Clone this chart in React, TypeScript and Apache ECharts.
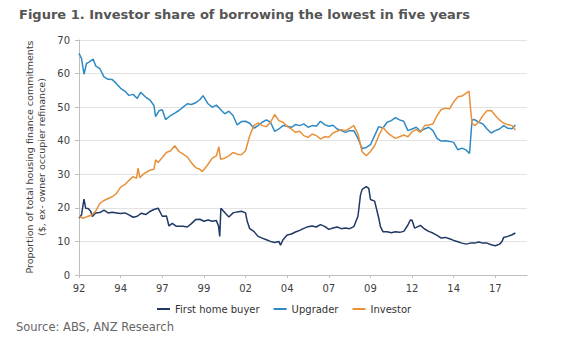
import React, { useEffect, useRef } from "react";
import * as echarts from "echarts";

const titleText = "Figure 1. Investor share of borrowing the lowest in five years";
const yAxisName1 = "Proportion of total housing finance commitments";
const yAxisName2 = "($, ex- owner occupier refinance)";
const sourceText = "Source: ABS, ANZ Research";

const tickYears = [1992, 1994.5, 1997, 1999.5, 2002, 2004.5, 2007, 2009.5, 2012, 2014.5, 2017];
const tickLabels = ["92", "94", "97", "99", "02", "04", "07", "09", "12", "14", "17"];

const firstHomeBuyer: [number, number][] = [
  [1992.0, 17], [1992.15, 17.9], [1992.3, 22.6], [1992.4, 19.9], [1992.55, 19.8], [1992.7, 19], [1992.8, 17.4],
  [1993.0, 18.5], [1993.25, 18.6], [1993.5, 19.3], [1993.75, 18.5], [1994.0, 18.7], [1994.25, 18.5], [1994.5, 18.3],
  [1994.75, 18.5], [1995.0, 17.9], [1995.25, 17.2], [1995.5, 17.5], [1995.75, 18.4], [1996.0, 18], [1996.25, 18.9],
  [1996.5, 19.5], [1996.75, 19.9], [1997.0, 17.5], [1997.25, 17.6], [1997.4, 14.6], [1997.6, 15.4], [1997.85, 14.5],
  [1998.25, 14.5], [1998.5, 14.3], [1998.75, 15.3], [1999.0, 16.5], [1999.25, 16.6], [1999.5, 16], [1999.75, 16.4],
  [2000.0, 16], [2000.25, 16.2], [2000.38, 14.5], [2000.45, 11.5], [2000.52, 19.9], [2000.75, 18.6], [2001.0, 17.3],
  [2001.25, 18.5], [2001.5, 18.8], [2001.75, 19], [2002.0, 18.5], [2002.1, 16], [2002.25, 13.8], [2002.5, 13],
  [2002.75, 11.5], [2003.0, 11], [2003.25, 10.5], [2003.5, 10], [2003.75, 9.7], [2004.0, 10], [2004.1, 8.9],
  [2004.25, 10.5], [2004.5, 11.9], [2004.75, 12.2], [2005.0, 12.8], [2005.25, 13.3], [2005.5, 13.9], [2005.75, 14.4],
  [2006.0, 14.6], [2006.25, 14.3], [2006.5, 15], [2006.75, 14.5], [2007.0, 13.6], [2007.25, 14], [2007.5, 14.3],
  [2007.75, 13.8], [2008.0, 14], [2008.25, 13.8], [2008.5, 14.4], [2008.75, 17.5], [2008.9, 23.8], [2009.0, 25.5],
  [2009.25, 26.3], [2009.4, 25.8], [2009.5, 22.5], [2009.75, 22], [2010.0, 16.9], [2010.1, 14.4], [2010.25, 12.9],
  [2010.5, 12.9], [2010.75, 12.6], [2011.0, 12.9], [2011.25, 12.7], [2011.5, 13], [2011.75, 14.9], [2011.9, 16.4],
  [2012.0, 16.3], [2012.15, 14], [2012.25, 14.2], [2012.5, 14.8], [2012.75, 13.7], [2013.0, 13], [2013.25, 12.5],
  [2013.5, 11.8], [2013.75, 11], [2014.0, 11.2], [2014.25, 10.8], [2014.5, 10.3], [2014.75, 9.9], [2015.0, 9.5],
  [2015.25, 9.2], [2015.5, 9.5], [2015.75, 9.5], [2016.0, 9.8], [2016.25, 9.5], [2016.5, 9.5], [2016.75, 9],
  [2017.0, 8.7], [2017.25, 9.2], [2017.4, 10], [2017.5, 11.2], [2017.75, 11.5], [2018.0, 12], [2018.2, 12.5],
];

const upgrader: [number, number][] = [
  [1992.0, 66], [1992.15, 64.5], [1992.3, 59.8], [1992.45, 63], [1992.6, 63.4], [1992.85, 64.3], [1993.0, 62.3],
  [1993.25, 61.5], [1993.5, 59], [1993.75, 58.3], [1994.0, 58.2], [1994.25, 57], [1994.5, 55.6], [1994.75, 54.8],
  [1995.0, 53.5], [1995.25, 53.8], [1995.5, 52.6], [1995.7, 54.4], [1996.0, 53], [1996.25, 52.2], [1996.5, 50.5],
  [1996.6, 47.2], [1996.8, 48.9], [1997.0, 49.2], [1997.2, 46.3], [1997.5, 47.5], [1997.75, 48.2], [1998.0, 49],
  [1998.25, 50], [1998.5, 51], [1998.75, 50.8], [1999.0, 51.3], [1999.25, 52.2], [1999.45, 53.4], [1999.75, 51],
  [2000.0, 50], [2000.25, 50.6], [2000.5, 49.3], [2000.75, 48], [2001.0, 48.8], [2001.25, 47.5], [2001.5, 44.7],
  [2001.75, 45.7], [2002.0, 45.8], [2002.25, 45.2], [2002.5, 43.7], [2002.75, 44.5], [2003.0, 45.5], [2003.25, 46.2],
  [2003.5, 45.5], [2003.75, 42.8], [2004.0, 43.5], [2004.25, 44.5], [2004.5, 44.3], [2004.75, 44], [2005.0, 44.8],
  [2005.25, 44.5], [2005.5, 45], [2005.75, 44], [2006.0, 44.5], [2006.25, 44.3], [2006.5, 45.8], [2006.75, 44.8],
  [2007.0, 44.3], [2007.25, 44.6], [2007.5, 43.5], [2007.75, 43], [2008.0, 42.5], [2008.25, 43], [2008.5, 43],
  [2008.75, 40.7], [2009.0, 37.7], [2009.25, 38], [2009.5, 38.8], [2009.75, 41.5], [2010.0, 44.2], [2010.25, 43.8],
  [2010.5, 45.5], [2010.75, 46], [2011.0, 46.9], [2011.25, 46.2], [2011.5, 45.8], [2011.75, 43], [2012.0, 43.5],
  [2012.25, 44], [2012.5, 42.8], [2012.75, 43.5], [2013.0, 44], [2013.25, 43], [2013.5, 40.7], [2013.75, 39.9],
  [2014.0, 40], [2014.25, 39.8], [2014.5, 39.5], [2014.75, 37.3], [2015.0, 37.8], [2015.25, 37.2], [2015.45, 36.2],
  [2015.6, 46.2], [2015.75, 46.3], [2016.0, 45.5], [2016.25, 45], [2016.5, 43.5], [2016.75, 42.3], [2017.0, 43],
  [2017.25, 43.5], [2017.5, 44.5], [2017.75, 43.7], [2018.0, 43.6], [2018.2, 44.7],
];

const investor: [number, number][] = [
  [1992.0, 17.4], [1992.25, 16.9], [1992.5, 17.4], [1992.75, 17.8], [1993.0, 19], [1993.25, 21.3], [1993.5, 22.2],
  [1993.75, 22.8], [1994.0, 23.3], [1994.25, 24.3], [1994.5, 26.2], [1994.75, 26.9], [1995.0, 28.2], [1995.25, 29.3],
  [1995.45, 28.8], [1995.55, 31.8], [1995.65, 29], [1995.9, 30.2], [1996.25, 31.2], [1996.5, 31.5], [1996.6, 34.3],
  [1996.75, 33.5], [1997.0, 35], [1997.25, 36.5], [1997.5, 37], [1997.75, 38.5], [1998.0, 36.8], [1998.25, 36],
  [1998.5, 35.2], [1998.75, 33.4], [1999.0, 32], [1999.25, 31.5], [1999.4, 30.8], [1999.6, 32], [1999.75, 33],
  [2000.0, 34.8], [2000.25, 35.5], [2000.4, 38.2], [2000.5, 34.5], [2000.75, 34.8], [2001.0, 35.5], [2001.25, 36.5],
  [2001.5, 36], [2001.75, 35.8], [2002.0, 37], [2002.25, 41.5], [2002.5, 44.5], [2002.75, 45.3], [2003.0, 44.5],
  [2003.25, 44.2], [2003.5, 45.5], [2003.75, 47.8], [2004.0, 46], [2004.25, 45.5], [2004.5, 44.2], [2004.75, 43.5],
  [2005.0, 42.5], [2005.25, 42.8], [2005.5, 41.5], [2005.75, 41], [2006.0, 42], [2006.25, 41.5], [2006.5, 40.5],
  [2006.75, 41.2], [2007.0, 41], [2007.25, 42.3], [2007.5, 42.8], [2007.75, 43.3], [2008.0, 43], [2008.25, 43.7],
  [2008.5, 44.5], [2008.75, 42], [2009.0, 36.7], [2009.25, 35.5], [2009.5, 36.8], [2009.75, 38.5], [2010.0, 41.5],
  [2010.25, 44], [2010.5, 42.5], [2010.75, 41.5], [2011.0, 40.7], [2011.25, 41.2], [2011.5, 41.7], [2011.75, 41.2],
  [2012.0, 42.7], [2012.25, 43.3], [2012.5, 42.5], [2012.75, 44.5], [2013.0, 44.7], [2013.25, 45], [2013.5, 47.5],
  [2013.75, 49.3], [2014.0, 49.7], [2014.25, 49.5], [2014.5, 51.6], [2014.75, 53.1], [2015.0, 53.3], [2015.25, 54.2],
  [2015.42, 54.8], [2015.5, 50], [2015.6, 45.2], [2015.75, 44.5], [2016.0, 45.5], [2016.25, 47.5], [2016.5, 48.9],
  [2016.75, 49], [2017.0, 47.5], [2017.25, 46.2], [2017.5, 45.2], [2017.75, 44.8], [2018.0, 44.5], [2018.2, 43.2],
];

const FONT = "DejaVu Sans";

export default function App() {
  const ref = useRef<HTMLDivElement>(null);
  useEffect(() => {
    if (!ref.current) return;
    const chart = echarts.init(ref.current, undefined, { renderer: "svg" });
    chart.setOption({
      animation: false,
      backgroundColor: "#ffffff",
      title: {
        text: titleText,
        left: 14,
        top: 3,
        textStyle: { fontFamily: FONT, fontWeight: "bold", fontSize: 13, color: "#555555" },
      },
      legend: {
        left: 152,
        top: 299,
        itemWidth: 13,
        itemHeight: 2,
        itemGap: 14,
        icon: "rect",
        textStyle: { fontFamily: FONT, fontSize: 10, color: "#333333" },
        data: ["First home buyer", "Upgrader", "Investor"],
      },
      grid: { left: 79, right: 53, top: 40, bottom: 77, containLabel: false },
      xAxis: {
        type: "value",
        min: 1992,
        max: 2018.9,
        axisLine: { show: true, lineStyle: { color: "#bfbfbf" } },
        axisTick: { show: true, customValues: tickYears, length: 3, inside: false, lineStyle: { color: "#bfbfbf" } },
        axisLabel: {
          customValues: tickYears,
          formatter: (v: number) => {
            const i = tickYears.findIndex((t) => Math.abs(t - v) < 0.01);
            return i >= 0 ? tickLabels[i] : "";
          },
          fontFamily: FONT,
          fontSize: 10,
          color: "#404040",
          margin: 8,
        },
        splitLine: { show: false },
      },
      yAxis: {
        type: "value",
        min: 0,
        max: 70,
        interval: 10,
        axisLine: { show: true, lineStyle: { color: "#bfbfbf" } },
        axisTick: { show: true, length: 4, lineStyle: { color: "#bfbfbf" } },
        axisLabel: { fontFamily: FONT, fontSize: 10, color: "#404040", margin: 9 },
        splitLine: { show: true, lineStyle: { color: "#e3e3e3", width: 1 } },
      },
      graphic: [
        {
          type: "text",
          x: 29,
          y: 157,
          rotation: Math.PI / 2,
          style: {
            text: yAxisName1,
            fontFamily: FONT,
            fontSize: 9.5,
            fill: "#404040",
            align: "center",
            verticalAlign: "middle",
          },
        },
        {
          type: "text",
          x: 41,
          y: 157,
          rotation: Math.PI / 2,
          style: {
            text: yAxisName2,
            fontFamily: FONT,
            fontSize: 9.5,
            fill: "#404040",
            align: "center",
            verticalAlign: "middle",
          },
        },
        {
          type: "text",
          x: 16,
          y: 327,
          style: {
            text: sourceText,
            fontFamily: FONT,
            fontSize: 11.5,
            fill: "#666666",
            verticalAlign: "middle",
          },
        },
      ],
      series: [
        {
          name: "First home buyer",
          type: "line",
          data: firstHomeBuyer,
          showSymbol: false,
          color: "#1f3864",
          lineStyle: { width: 1.5, color: "#1f3864" },
        },
        {
          name: "Upgrader",
          type: "line",
          data: upgrader,
          showSymbol: false,
          color: "#2f8ac4",
          lineStyle: { width: 1.5, color: "#2f8ac4" },
        },
        {
          name: "Investor",
          type: "line",
          data: investor,
          showSymbol: false,
          color: "#e8913a",
          lineStyle: { width: 1.5, color: "#e8913a" },
        },
      ],
    });
    return () => chart.dispose();
  }, []);
  return (
    <div
      ref={ref}
      style={{ position: "fixed", left: 0, top: 0, width: 580, height: 352 }}
    />
  );
}
